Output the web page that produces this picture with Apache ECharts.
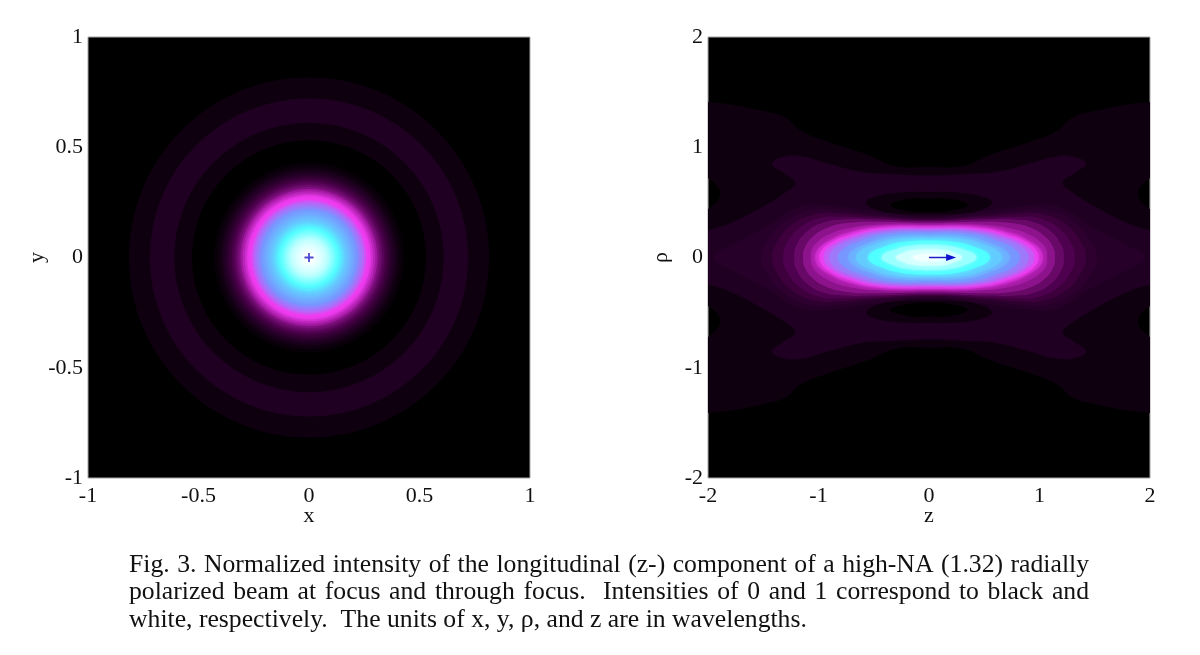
<!DOCTYPE html>
<html><head><meta charset="utf-8">
<style>html,body{margin:0;padding:0;background:#fff}#c{width:1200px;height:655px}</style>
<script src="https://cdn.jsdelivr.net/npm/echarts@6/dist/echarts.min.js"></script>
</head><body><div id="c"></div>
<script>
// tick labels come from the axes: x,y in -1..1 step .5; z,rho in -2..2 step 1
const captionLines = [
  "Fig. 3. Normalized intensity of the longitudinal (z-) component of a high-NA (1.32) radially",
  "polarized beam at focus and through focus.  Intensities of 0 and 1 correspond to black and",
  "white, respectively.  The units of x, y, ρ, and z are in wavelengths."
];
// colour map: normalized intensity -> colour
const cmapValues = [0, 0.03, 0.06, 0.12, 0.25, 0.38, 0.5, 0.7, 0.85, 1];
const cmapColors = [[0,0,0],[15,0,16],[32,0,34],[75,0,75],[160,25,160],[240,60,240],[120,150,255],[80,255,255],[190,255,255],[255,255,255]];

// left panel: radial profile, outermost first (radius in wavelengths, intensity)
const radii = [0.815,0.72,0.61,0.53,0.43,0.415,0.40,0.39,0.38,0.37,0.36,0.35,0.34,0.33,0.32,0.31,0.30,0.29,0.28,0.27,0.26,0.25,0.24,0.23,0.22,0.21,0.20,0.19,0.18,0.17,0.16,0.15,0.14,0.13,0.12,0.11,0.10,0.09,0.08,0.07,0.06,0.05,0.04,0.03,0.02];
const radialI = [0.03,0.06,0.03,0,0.015,0.03,0.045,0.06,0.07,0.085,0.1,0.12,0.14,0.17,0.2,0.25,0.29,0.33,0.37,0.38,0.41,0.44,0.46,0.48,0.50,0.52,0.54,0.56,0.58,0.60,0.63,0.66,0.69,0.72,0.75,0.78,0.81,0.84,0.87,0.89,0.92,0.94,0.96,0.98,1];

// right panel: contour levels, first quadrant outline points [z, rho]
const levelI = [0.03,0.06,0.03,0,0.07,0.08,0.10,0.125,0.165,0.22,0.26,0.32,0.38,0.42,0.46,0.50,0.55,0.60,0.70,0.80,0.90,0.97];
const levelIsHole = [0,0,1,1,0,0,0,0,0,0,0,0,0,0,0,0,0,0,0,0,0,0];
const contours = [
 [[0,.82],[.31,.83],[.55,.93],[.91,1.05],[1.16,1.15],[1.30,1.27],[1.51,1.33],[1.81,1.39],[2.0,1.41],[2.15,1.43],[2.15,.8],[2.0,.72],[1.89,.58],[2.0,.44],[2.15,.4],[2.15,0]],
 [[0,.744],[.40,.76],[.61,.775],[.91,.85],[1.15,.917],[1.33,.91],[1.42,.85],[1.33,.775],[1.21,.68],[1.27,.61],[1.51,.457],[1.81,.305],[2.0,.245],[2.15,.2],[2.15,0]],
 [[0,.595],[.25,.59],[.46,.56],[.57,.50],[.45,.425],[.25,.395],[0,.39]],
 [[0,.535],[.2,.53],[.35,.475],[.2,.425],[0,.41]],
 [[0,.37],[.5,.42],[.91,.47],[1.17,.46],[1.47,.28],[1.75,.13],[1.95,0]],
 [[0,.36],[.5,.39],[.85,.43],[1.06,.43],[1.3,.33],[1.47,.14],[1.52,0]],
 [[0,.35],[.5,.375],[.82,.40],[1.02,.395],[1.24,.30],[1.38,.13],[1.42,0]],
 [[0,.34],[.5,.36],[.8,.37],[.98,.36],[1.17,.27],[1.29,.12],[1.32,0]],
 [[0,.33],[.5,.345],[.78,.345],[.95,.32],[1.10,.24],[1.20,.11],[1.22,0]],
 [[0,.315],[.5,.325],[.76,.31],[.92,.27],[1.04,.20],[1.12,.10],[1.14,0]],
 [[0,.295],[.5,.295],[.76,.26],[.90,.21],[1.00,.15],[1.06,.08],[1.07,0]],
 [[0,.285],[.46,.275],[.76,.215],[.90,.15],[.98,.10],[1.02,.05],[1.03,0]],
 [[0,.27],[.46,.26],[.76,.19],[.91,.12],[.98,.05],[.99,0]],
 [[0,.255],[.45,.245],[.72,.18],[.87,.11],[.94,.05],[.95,0]],
 [[0,.245],[.42,.23],[.70,.16],[.83,.10],[.89,.04],[.90,0]],
 [[0,.225],[.40,.21],[.63,.145],[.76,.085],[.82,0]],
 [[0,.20],[.36,.185],[.56,.125],[.68,.07],[.73,0]],
 [[0,.18],[.33,.165],[.50,.115],[.62,.06],[.66,0]],
 [[0,.155],[.27,.135],[.42,.09],[.52,.045],[.55,0]],
 [[0,.115],[.21,.10],[.33,.065],[.41,.03],[.43,0]],
 [[0,.075],[.15,.065],[.23,.04],[.3,0]],
 [[0,.035],[.08,.028],[.15,0]]
];
// markers
const crossPoint = [[0,0]];
const arrowPoints = [[0,0],[0.2,0]];

function colorOf(v){
  for(let i=1;i<cmapValues.length;i++){
    if(v<=cmapValues[i]){
      const t=(v-cmapValues[i-1])/(cmapValues[i]-cmapValues[i-1]);
      const a=cmapColors[i-1],b=cmapColors[i];
      return 'rgb('+a.map((c,k)=>Math.round(c+(b[k]-c)*t)).join(',')+')';
    }
  }
  return '#fff';
}
const SERIF='"Liberation Serif","Times New Roman",serif';
function axis(kind,lim,step,name,gap){
  return {type:'value',min:-lim,max:lim,interval:step,name:name,nameLocation:'middle',nameGap:gap,nameMoveOverlap:false,
    nameTextStyle:{fontFamily:SERIF,fontSize:22,color:'#111'},
    axisLine:{show:false},axisTick:{show:false},splitLine:{show:false},
    axisLabel:{fontFamily:SERIF,fontSize:22,color:'#111',margin:kind==='x'?7:5,showMinLabel:true,showMaxLabel:true}};
}
const gridStyle={show:true,backgroundColor:'#000',borderColor:'#a5a5a5',borderWidth:1,width:442,top:37,height:441};

function mirrored(p){
  const out=[];
  const n=p.length;
  for(let i=0;i<n;i++) out.push([p[i][0],p[i][1]]);
  for(let i=n-1;i>=0;i--) if(p[i][1]!==0) out.push([p[i][0],-p[i][1]]);
  const m=out.length;
  for(let i=m-1;i>=0;i--) if(out[i][0]!==0) out.push([-out[i][0],out[i][1]]);
  return out;
}
function holeLoop(p,s){
  const out=p.map(q=>[q[0],s*q[1]]);
  for(let i=p.length-1;i>=0;i--) if(p[i][0]!==0) out.push([-p[i][0],s*p[i][1]]);
  return out;
}
function polyShape(api,pts){
  return {points:pts.map(q=>api.coord(q)),smooth:0.45};
}
function renderContour(params,api){
  const i=params.dataIndex, v=levelI[i], col=colorOf(v), c=contours[i];
  const soft=v>=0.32?{shadowBlur:4,shadowColor:col}:{};
  if(levelIsHole[i]){
    return {type:'group',children:[1,-1].map(s=>({type:'polygon',shape:polyShape(api,holeLoop(c,s)),style:{fill:col}}))};
  }
  return {type:'polygon',shape:polyShape(api,mirrored(c)),style:Object.assign({fill:col},soft)};
}
function renderDisc(params,api){
  const i=params.dataIndex, o=api.coord([0,0]);
  const r=api.size([radii[i],0])[0];
  return {type:'circle',shape:{cx:o[0],cy:o[1],r:r},style:{fill:colorOf(radialI[i])}};
}

const chart=echarts.init(document.getElementById('c'),null,{renderer:'canvas'});

// justified caption placed word by word
const LEFT=129, RIGHT=1089, FONT=25.7, LINE_Y=[565,592,620];
const ctx=document.createElement('canvas').getContext('2d');
ctx.font=FONT+'px "Liberation Serif"';
const caption=[];
captionLines.forEach((line,li)=>{
  const parts=line.split(' ');
  const words=parts.filter(w=>w);
  const wordW=words.reduce((s,w)=>s+ctx.measureText(w).width,0);
  const spaceUnits=parts.length-1;
  const natural=ctx.measureText(' ').width;
  const gap=li<2?(RIGHT-LEFT-wordW)/spaceUnits:natural;
  let x=LEFT;
  parts.forEach(w=>{
    if(w){
      caption.push({type:'text',x:x,y:LINE_Y[li],style:{text:w,font:FONT+'px '+SERIF,fill:'#111',verticalAlign:'middle'}});
      x+=ctx.measureText(w).width;
    }
    x+=gap;
  });
});

chart.setOption({
  animation:false,
  backgroundColor:'#fff',
  grid:[Object.assign({left:88},gridStyle),Object.assign({left:708},gridStyle)],
  xAxis:[Object.assign(axis('x',1,0.5,'x',27),{gridIndex:0}),Object.assign(axis('x',2,1,'z',27),{gridIndex:1})],
  yAxis:[Object.assign(axis('y',1,0.5,'y',40),{gridIndex:0}),Object.assign(axis('y',2,1,'ρ',36),{gridIndex:1})],
  graphic:caption,
  series:[
    {type:'custom',xAxisIndex:0,yAxisIndex:0,clip:true,renderItem:renderDisc,data:radii.map((r,i)=>[r,radialI[i]]),silent:true,encode:{x:0,y:1}},
    {type:'scatter',xAxisIndex:0,yAxisIndex:0,data:crossPoint,symbol:'path://M4 0h2v4h4v2H6v4H4V6H0V4h4z',symbolSize:9,itemStyle:{color:'#1c1cc8'},z:5,silent:true},
    {type:'custom',xAxisIndex:1,yAxisIndex:1,clip:true,renderItem:renderContour,data:levelI.map(v=>[0,0,v]),silent:true,encode:{x:0,y:1}},
    {type:'line',xAxisIndex:1,yAxisIndex:1,data:[
        {value:arrowPoints[0],symbol:'none'},
        {value:arrowPoints[1],symbol:'triangle',symbolSize:[7,10],symbolRotate:-90}],
      showSymbol:true,lineStyle:{color:'#1c1cc8',width:1.4},itemStyle:{color:'#1010d0'},z:5,silent:true}
  ]
});
</script></body></html>
